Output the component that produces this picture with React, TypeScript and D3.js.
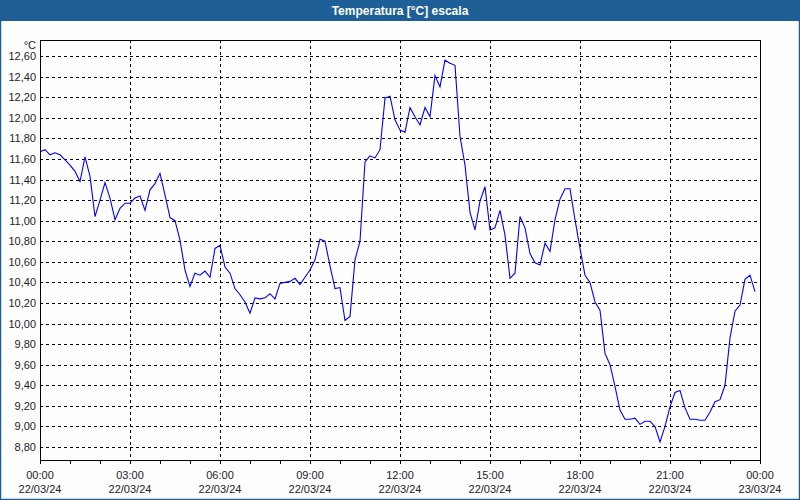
import React from "react";
import * as d3 from "d3";

const title = "Temperatura [°C] escala";
const unitLabel = "°C";
const startTime = new Date(2024, 2, 22, 0, 0);
const endTime = new Date(2024, 2, 23, 0, 0);
const stepMinutes = 10;
const temps = [
  11.67, 11.69, 11.64, 11.66, 11.64, 11.59, 11.54, 11.48, 11.38, 11.62,
  11.43, 11.04, 11.2, 11.37, 11.22, 11.01, 11.12, 11.17, 11.17, 11.22,
  11.24, 11.1, 11.3, 11.36, 11.46, 11.25, 11.03, 11.0, 10.81, 10.52,
  10.36, 10.49, 10.47, 10.51, 10.45, 10.73, 10.76, 10.55, 10.49, 10.34,
  10.28, 10.21, 10.1, 10.25, 10.24, 10.25, 10.29, 10.24, 10.39, 10.4,
  10.41, 10.44, 10.38, 10.45, 10.52, 10.62, 10.82, 10.8, 10.56, 10.34,
  10.35, 10.03, 10.07, 10.62, 10.8, 11.57, 11.63, 11.61, 11.69, 12.19,
  12.21, 11.98, 11.88, 11.86, 12.1, 12.01, 11.93, 12.1, 12.01, 12.41,
  12.3, 12.56, 12.53, 12.51, 11.82, 11.54, 11.08, 10.91, 11.19, 11.33,
  10.91, 10.93, 11.1, 10.86, 10.44, 10.49, 11.04, 10.93, 10.68, 10.59,
  10.57, 10.78, 10.7, 11.01, 11.21, 11.31, 11.31, 11.01, 10.73, 10.47,
  10.4, 10.21, 10.13, 9.71, 9.6, 9.39, 9.16, 9.07, 9.07, 9.08,
  9.02, 9.05, 9.05, 9.0, 8.85, 9.0, 9.19, 9.33, 9.35, 9.18,
  9.07, 9.07, 9.06, 9.06, 9.14, 9.24, 9.26, 9.4, 9.86, 10.12,
  10.18, 10.43, 10.47, 10.31,
];
const yTicks = [8.8, 9.0, 9.2, 9.4, 9.6, 9.8, 10.0, 10.2, 10.4, 10.6, 10.8, 11.0, 11.2, 11.4, 11.6, 11.8, 12.0, 12.2, 12.4, 12.6];
const yDomain = [8.674, 12.756];

const W = 800;
const H = 500;
const left = 40;
const right = 760;
const top = 40;
const bottom = 460;
const font = "'Liberation Sans', Arial, sans-serif";
const textColor = "#1c1c2c";
const frameBlue = "#1d5f96";

export default function App() {
  const x = d3.scaleTime().domain([startTime, endTime]).range([left, right]);
  const y = d3.scaleLinear().domain(yDomain).range([bottom, top]);
  const points = temps.map((v, i) => ({
    t: new Date(startTime.getTime() + i * stepMinutes * 60000),
    v,
  }));
  const line = d3
    .line<{ t: Date; v: number }>()
    .x((d) => x(d.t))
    .y((d) => y(d.v));
  const hourTicks = x.ticks(d3.timeHour.every(1)!);
  const majorTicks = x.ticks(d3.timeHour.every(3)!);
  const fmtComma = (v: number) => v.toFixed(2).replace(".", ",");
  const fmtTime = d3.timeFormat("%H:%M");
  const fmtDate = d3.timeFormat("%d/%m/%y");
  const px = (v: number) => Math.round(v) + 0.5;

  return (
    <svg
      width={W}
      height={H}
      style={{ position: "absolute", left: 0, top: 0, display: "block" }}
      fontFamily={font}
    >
      <rect x={0} y={0} width={W} height={H} fill="#fdfefd" />
      <rect x={0.5} y={0.5} width={W - 1} height={H - 1} fill="none" stroke={frameBlue} strokeWidth={1.5} />
      <rect x={0} y={0} width={W} height={21} fill={frameBlue} />
      <text x={W / 2} y={15} textAnchor="middle" fill="#ffffff" fontSize={12} fontWeight="bold">
        {title}
      </text>

      {/* horizontal grid */}
      {yTicks.map((v) => (
        <line
          key={"h" + v}
          x1={left}
          x2={right}
          y1={px(y(v))}
          y2={px(y(v))}
          stroke="#000"
          strokeWidth={1}
          strokeDasharray="3,3"
          shapeRendering="crispEdges"
        />
      ))}
      {/* vertical grid */}
      {majorTicks
        .filter((t) => +t !== +startTime && +t !== +endTime)
        .map((t) => (
          <line
            key={"v" + +t}
            x1={px(x(t))}
            x2={px(x(t))}
            y1={top}
            y2={bottom}
            stroke="#000"
            strokeWidth={1}
            strokeDasharray="3,3"
            shapeRendering="crispEdges"
          />
        ))}

      <path d={line(points) || ""} fill="none" stroke="#0000ff" strokeWidth={1.1} />

      <rect
        x={left + 0.5}
        y={top + 0.5}
        width={right - left}
        height={bottom - top}
        fill="none"
        stroke="#000"
        strokeWidth={1}
        shapeRendering="crispEdges"
      />

      {/* x ticks */}
      {hourTicks.map((t) => (
        <line
          key={"t" + +t}
          x1={px(x(t))}
          x2={px(x(t))}
          y1={bottom}
          y2={bottom + 4}
          stroke="#000"
          strokeWidth={1}
          shapeRendering="crispEdges"
        />
      ))}
      {majorTicks.map((t) => (
        <g key={"l" + +t} fontSize={11} fill={textColor} textAnchor="middle">
          <text x={x(t)} y={479}>
            {fmtTime(t)}
          </text>
          <text x={x(t)} y={493}>
            {fmtDate(t)}
          </text>
        </g>
      ))}

      {/* y labels */}
      {yTicks.map((v) => (
        <text key={"y" + v} x={36} y={y(v) + 4} fontSize={11} fill={textColor} textAnchor="end">
          {fmtComma(v)}
        </text>
      ))}
      <text x={36} y={49} fontSize={11} fill={textColor} textAnchor="end">
        {unitLabel}
      </text>
    </svg>
  );
}
